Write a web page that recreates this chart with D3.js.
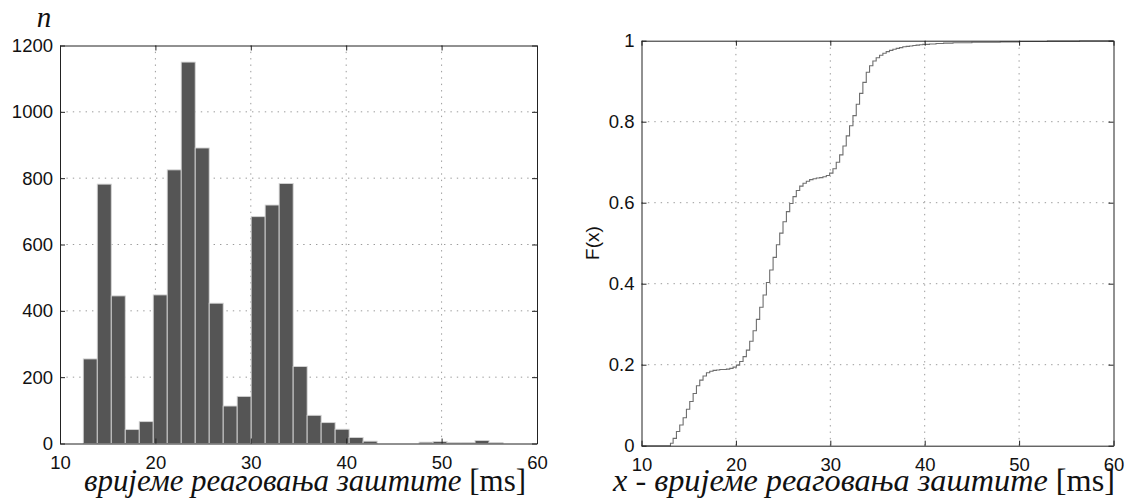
<!DOCTYPE html>
<html>
<head>
<meta charset="utf-8">
<script src="https://cdn.jsdelivr.net/npm/d3@7"></script>
<style>
  html, body { margin: 0; padding: 0; background: #fff; }
  svg { display: block; }
</style>
</head>
<body>
<svg id="chart" width="1126" height="499"></svg>
<script>
// ---------------- DATA ----------------
// Histogram: 30 equal bins between the data min and max (ms)
const histMin = 12.44;
const histMax = 56.44;
const histCounts = [255, 782, 445, 42, 66, 448, 825, 1150, 891, 423,
                    113, 142, 684, 719, 784, 232, 85, 63, 43, 18,
                    7, 0, 0, 0, 4, 6, 3, 3, 9, 3];

const cdfX = [10, 12.9, 13.07, 13.35, 13.70, 14.05, 14.41, 14.76, 15.11, 15.47, 15.82,
              16.17, 16.52, 16.88, 17.23, 17.58, 17.94, 18.29, 18.64, 19.00, 19.35,
              19.70, 20.05, 20.40, 20.76, 21.11, 21.46, 21.82, 22.17, 22.52, 22.88,
              23.23, 23.58, 23.94, 24.29, 24.64, 24.99, 25.35, 25.70, 26.05, 26.40,
              26.76, 27.11, 27.46, 27.81, 28.17, 28.52, 28.87, 29.22, 29.58, 29.93,
              30.28, 30.63, 30.99, 31.34, 31.69, 32.04, 32.40, 32.75, 33.10, 33.45,
              33.81, 34.16, 34.51, 34.86, 35.22, 35.57, 35.92, 36.27, 36.63, 36.98,
              37.33, 37.68, 38.04, 38.39, 38.74, 39.09, 39.45, 39.80, 40.5, 41.2,
              42.0, 43.0, 45.0, 48.0, 50.0, 53.0, 56.4, 60];
const cdfF = [0, 0, 0.006, 0.018, 0.035, 0.051, 0.069, 0.090, 0.109, 0.129, 0.148,
              0.162, 0.172, 0.180, 0.184, 0.186, 0.187, 0.188, 0.188, 0.189, 0.191,
              0.194, 0.199, 0.208, 0.220, 0.236, 0.258, 0.284, 0.312, 0.342, 0.372,
              0.403, 0.434, 0.465, 0.496, 0.525, 0.553, 0.578, 0.598, 0.615, 0.630,
              0.641, 0.648, 0.653, 0.657, 0.659, 0.661, 0.662, 0.664, 0.667, 0.673,
              0.684, 0.700, 0.718, 0.740, 0.765, 0.790, 0.815, 0.843, 0.870, 0.897,
              0.922, 0.938, 0.950, 0.958, 0.964, 0.969, 0.973, 0.976, 0.979, 0.981,
              0.983, 0.985, 0.986, 0.987, 0.988, 0.989, 0.990, 0.991, 0.992, 0.993,
              0.994, 0.995, 0.996, 0.997, 0.998, 0.999, 1.0, 1.0];

const xTicks = [10, 20, 30, 40, 50, 60];
const yTicksHist = [0, 200, 400, 600, 800, 1000, 1200];
const yTicksCdf = [0, 0.2, 0.4, 0.6, 0.8, 1];
const yTickLabelsCdf = ["0", "0.2", "0.4", "0.6", "0.8", "1"];

const histYLabel = "n";
const histXLabel = "вријеме реаговања заштите ";
const cdfXLabel = "x - вријеме реаговања заштите ";
const unitLabel = "[ms]";
const cdfYLabel = "F(x)";

// ---------------- DRAWING ----------------
const svg = d3.select("#chart");
const tickFont = "'Liberation Sans', Arial, Helvetica, sans-serif";
const serifFont = "'Liberation Serif', 'Times New Roman', serif";
const gridStyle = { stroke: "#9a9a9a", dash: "1.4,5" };

function drawGrid(x, y, yTicks) {
  const [x0, x1] = x.range();
  const [y0, y1] = y.range();
  const g = svg.append("g");
  g.selectAll("line.vg").data(xTicks.filter(d => d > x.domain()[0] && d < x.domain()[1]))
    .join("line")
    .attr("x1", d => x(d)).attr("x2", d => x(d))
    .attr("y1", y0).attr("y2", y1)
    .attr("stroke", gridStyle.stroke).attr("stroke-width", 1)
    .attr("stroke-dasharray", gridStyle.dash);
  g.selectAll("line.hg").data(yTicks.filter(d => d > y.domain()[0] && d < y.domain()[1]))
    .join("line")
    .attr("x1", x0).attr("x2", x1)
    .attr("y1", d => y(d)).attr("y2", d => y(d))
    .attr("stroke", gridStyle.stroke).attr("stroke-width", 1)
    .attr("stroke-dasharray", gridStyle.dash);
}

function drawAxes(x, y, yTicks, yFmt) {
  const [x0, x1] = x.range();
  const [y0, y1] = y.range();
  const styleAxis = sel => {
    sel.select(".domain").attr("stroke", "#222").attr("stroke-width", 1);
    sel.selectAll(".tick line").attr("stroke", "#222");
    sel.selectAll(".tick text").attr("fill", "#111")
      .style("font-family", tickFont).style("font-size", "18.5px");
  };
  svg.append("g").attr("transform", `translate(0,${y0})`)
    .call(d3.axisBottom(x).tickValues(xTicks).tickFormat(d3.format("d"))
      .tickSizeInner(-5).tickSizeOuter(0).tickPadding(12))
    .call(styleAxis);
  svg.append("g").attr("transform", `translate(0,${y1})`)
    .call(d3.axisTop(x).tickValues(xTicks).tickFormat("")
      .tickSizeInner(-5).tickSizeOuter(0))
    .call(styleAxis);
  svg.append("g").attr("transform", `translate(${x0},0)`)
    .call(d3.axisLeft(y).tickValues(yTicks).tickFormat(yFmt)
      .tickSizeInner(-5).tickSizeOuter(0).tickPadding(7))
    .call(styleAxis);
  svg.append("g").attr("transform", `translate(${x1},0)`)
    .call(d3.axisRight(y).tickValues(yTicks).tickFormat("")
      .tickSizeInner(-5).tickSizeOuter(0))
    .call(styleAxis);
}

function axisTitle(xStart, xEnd, baseline, italicPart) {
  const t = svg.append("text").attr("x", xStart).attr("y", baseline)
    .attr("textLength", xEnd - xStart).attr("lengthAdjust", "spacingAndGlyphs")
    .style("font-family", serifFont).style("font-size", "31px").attr("fill", "#111");
  t.append("tspan").style("font-style", "italic").text(italicPart);
  t.append("tspan").text(unitLabel);
}

// ----- Left: histogram -----
const xL = d3.scaleLinear().domain([10, 60]).range([60, 537]);
const yL = d3.scaleLinear().domain([0, 1200]).range([443.5, 45.5]);
const binW = (histMax - histMin) / histCounts.length;
const bins = histCounts.map((c, i) => ({ x0: histMin + i * binW, x1: histMin + (i + 1) * binW, n: c }));

drawGrid(xL, yL, yTicksHist);
svg.append("g").selectAll("rect").data(bins).join("rect")
  .attr("x", d => xL(d.x0))
  .attr("width", d => xL(d.x1) - xL(d.x0))
  .attr("y", d => yL(d.n))
  .attr("height", d => yL(0) - yL(d.n))
  .attr("fill", "#555555")
  .attr("stroke", "#d4d4d4")
  .attr("stroke-width", 0.9);
drawAxes(xL, yL, yTicksHist, d3.format("d"));

svg.append("text").attr("x", 44).attr("y", 27).attr("text-anchor", "middle")
  .style("font-family", serifFont).style("font-style", "italic").style("font-size", "29px")
  .attr("fill", "#111").text(histYLabel);

axisTitle(84, 526, 491, histXLabel);

// ----- Right: CDF -----
const xR = d3.scaleLinear().domain([10, 60]).range([641.5, 1113.5]);
const yR = d3.scaleLinear().domain([0, 1]).range([445.7, 40.7]);
drawGrid(xR, yR, yTicksCdf);
const cdfPts = cdfX.map((d, i) => [d, cdfF[i]]);
svg.append("path").datum(cdfPts)
  .attr("d", d3.line().x(d => xR(d[0])).y(d => yR(d[1])).curve(d3.curveStepAfter))
  .attr("fill", "none").attr("stroke", "#6e6e6e").attr("stroke-width", 1.1);
drawAxes(xR, yR, yTicksCdf, (d, i) => yTickLabelsCdf[i]);

svg.append("text").attr("transform", "translate(599,243) rotate(-90)").attr("text-anchor", "middle")
  .style("font-family", tickFont).style("font-size", "19px").attr("fill", "#111").text(cdfYLabel);

axisTitle(613, 1115, 491, cdfXLabel);
</script>
</body>
</html>
